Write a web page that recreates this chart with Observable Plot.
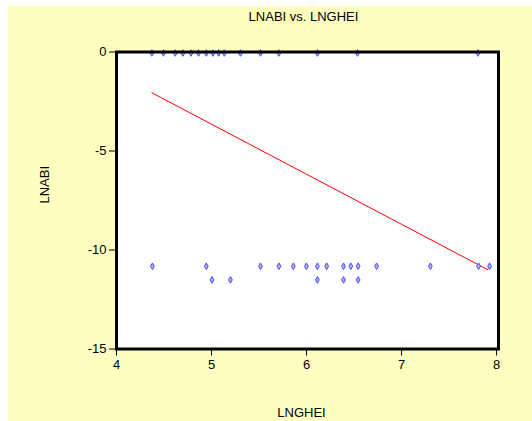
<!DOCTYPE html>
<html>
<head>
<meta charset="utf-8">
<script src="https://cdn.jsdelivr.net/npm/d3@7"></script>
<script src="https://cdn.jsdelivr.net/npm/@observablehq/plot@0.6"></script>
<style>
  html, body { margin: 0; padding: 0; background: #ffffff; }
  #chart { position: absolute; left: 8px; top: 6px; }
  svg { font-family: Arial, "Liberation Sans", sans-serif; }
</style>
</head>
<body>
<div id="chart"></div>
<script>
// LNGHEI values for each LNABI level
const xAtZero = [4.372, 4.494, 4.618, 4.699, 4.784, 4.864, 4.945, 5.016, 5.075, 5.135, 5.304, 5.515, 5.709, 6.114, 6.536, 7.804];
const xAtMid = [4.378, 4.945, 5.515, 5.709, 5.861, 5.998, 6.114, 6.212, 6.389, 6.466, 6.543, 6.737, 7.303, 7.810, 7.926];
const xAtLow = [5.005, 5.199, 6.114, 6.389, 6.543];
const levels = [-0.05, -10.82, -11.51];
// fitted regression line endpoints
const fitX = [4.372, 7.909];
const fitY = [-2.06, -11.0];
const xTicks = [4, 5, 6, 7, 8];
const yTicks = [0, -5, -10, -15];

const points = [
  ...xAtZero.map(x => ({x, y: levels[0]})),
  ...xAtMid.map(x => ({x, y: levels[1]})),
  ...xAtLow.map(x => ({x, y: levels[2]}))
];
const fit = fitX.map((x, i) => ({x, y: fitY[i]}));
const fmt = d => String(d);

const plot = Plot.plot({
  width: 524,
  height: 415,
  marginLeft: 108,
  marginRight: 34,
  marginTop: 45.5,
  marginBottom: 72.5,
  style: {background: "#FFFFC0", fontSize: "12px", color: "#000", fontFamily: "Arial, 'Liberation Sans', sans-serif"},
  x: {domain: [4, 8.02], label: null},
  y: {domain: [-15, 0], label: null},
  marks: [
    Plot.frame({fill: "white", stroke: null}),
    Plot.axisX({ticks: xTicks, tickFormat: fmt, tickSize: 7, tickPadding: 4, label: null, fontSize: 13}),
    Plot.axisY({ticks: yTicks, tickFormat: fmt, tickSize: 7, tickPadding: 3, label: null, fontSize: 13}),
    Plot.line(fit, {x: "x", y: "y", stroke: "#FF0000", strokeWidth: 1}),
    Plot.dot(points, {x: "x", y: "y", symbol: "diamond", r: 2, stroke: "#4848FF", fill: "#B0B0FF", strokeWidth: 1}),
    Plot.frame({stroke: "#000", strokeWidth: 3}),
    Plot.text(["LNABI vs. LNGHEI"], {frameAnchor: "top", dy: -35, dx: -4, lineAnchor: "middle", fontSize: 13, fill: "#000"}),
    Plot.text(["LNGHEI"], {frameAnchor: "bottom", dy: 64, dx: -6, lineAnchor: "middle", fontSize: 13, fill: "#000"}),
    Plot.text(["LNABI"], {frameAnchor: "left", dx: -72, dy: 3, rotate: -90, lineAnchor: "middle", fontSize: 13, fill: "#000"})
  ]
});
document.getElementById("chart").appendChild(plot);
</script>
</body>
</html>
